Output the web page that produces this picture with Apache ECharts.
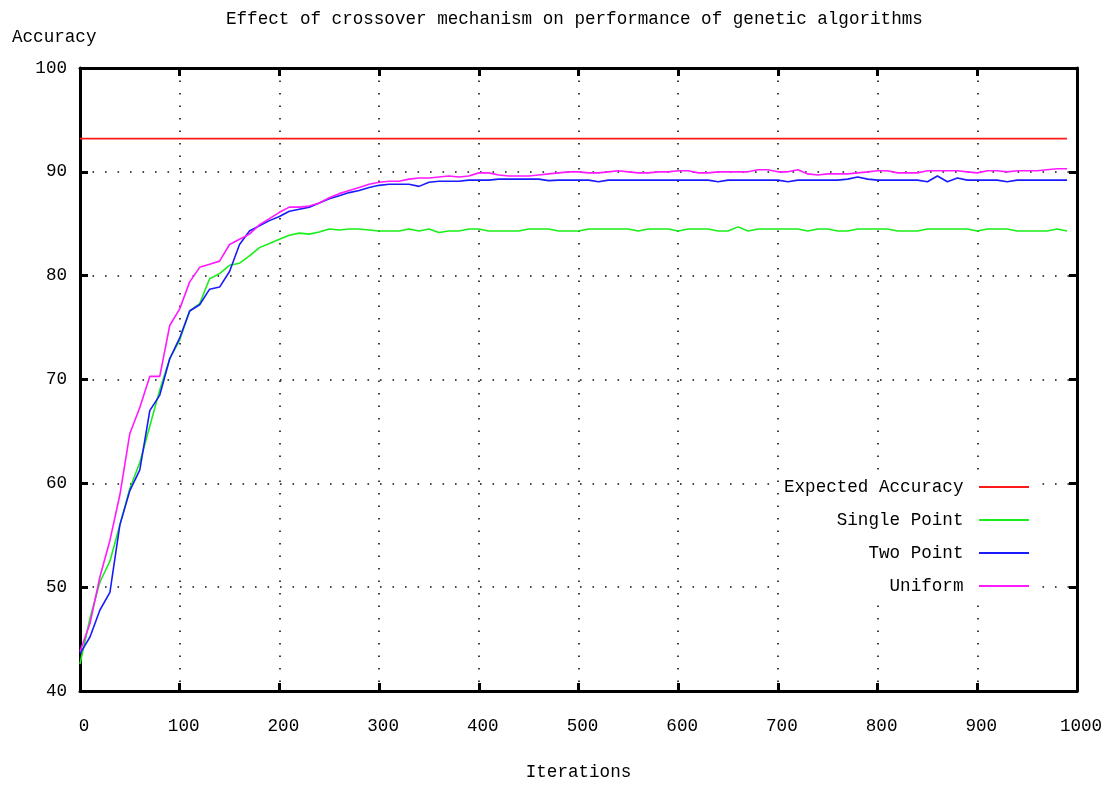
<!DOCTYPE html>
<html>
<head>
<meta charset="utf-8">
<title>Effect of crossover mechanism on performance of genetic algorithms</title>
<script src="https://cdn.jsdelivr.net/npm/echarts@6/dist/echarts.min.js"></script>
<style>
  html, body { margin: 0; padding: 0; background: #ffffff; }
  #chart { width: 1112px; height: 786px; }
</style>
</head>
<body>
<div id="chart"></div>
<script>
// Iterations sampled every 10 steps
const iterations = Array.from({ length: 100 }, (_, i) => i * 10);

const xTicks = [0, 100, 200, 300, 400, 500, 600, 700, 800, 900, 1000];
const yTicks = [40, 50, 60, 70, 80, 90, 100];

const expectedAccuracy = 93.2;

const singlePoint = [
  42.6, 47.0, 50.5, 52.5, 56.0, 59.5, 62.0, 65.5, 69.0, 72.0,
  73.8, 76.6, 77.3, 79.7, 80.2, 81.0, 81.2, 81.9, 82.7, 83.1,
  83.5, 83.9, 84.1, 84.0, 84.2, 84.5, 84.4, 84.5, 84.5, 84.4,
  84.3, 84.3, 84.3, 84.5, 84.3, 84.5, 84.15, 84.3, 84.3, 84.5,
  84.5, 84.3, 84.3, 84.3, 84.3, 84.5, 84.5, 84.5, 84.3, 84.3,
  84.3, 84.5, 84.5, 84.5, 84.5, 84.5, 84.3, 84.5, 84.5, 84.5,
  84.3, 84.5, 84.5, 84.5, 84.3, 84.3, 84.7, 84.3, 84.5, 84.5,
  84.5, 84.5, 84.5, 84.3, 84.5, 84.5, 84.3, 84.3, 84.5, 84.5,
  84.5, 84.5, 84.3, 84.3, 84.3, 84.5, 84.5, 84.5, 84.5, 84.5,
  84.3, 84.5, 84.5, 84.5, 84.3, 84.3, 84.3, 84.3, 84.5, 84.3
];

const twoPoint = [
  43.6, 45.2, 47.8, 49.5, 56.0, 59.3, 61.3, 67.0, 68.5, 72.0,
  74.0, 76.6, 77.2, 78.7, 78.9, 80.4, 83.0, 84.3, 84.8, 85.3,
  85.7, 86.2, 86.4, 86.6, 87.0, 87.4, 87.7, 88.0, 88.2, 88.5,
  88.7, 88.8, 88.8, 88.8, 88.6, 89.0, 89.1, 89.1, 89.1, 89.2,
  89.2, 89.2, 89.3, 89.3, 89.3, 89.3, 89.3, 89.15, 89.2, 89.2,
  89.2, 89.2, 89.05, 89.2, 89.2, 89.2, 89.2, 89.2, 89.2, 89.2,
  89.2, 89.2, 89.2, 89.2, 89.05, 89.2, 89.2, 89.2, 89.2, 89.2,
  89.2, 89.05, 89.2, 89.2, 89.2, 89.2, 89.2, 89.3, 89.5, 89.3,
  89.2, 89.2, 89.2, 89.2, 89.2, 89.05, 89.6, 89.05, 89.4, 89.2,
  89.2, 89.2, 89.2, 89.05, 89.2, 89.2, 89.2, 89.2, 89.2, 89.2
];

const uniform = [
  43.8, 46.5, 51.0, 54.5, 58.9, 64.8, 67.3, 70.3, 70.3, 75.2,
  76.8, 79.4, 80.8, 81.1, 81.4, 83.0, 83.5, 84.0, 84.9, 85.5,
  86.1, 86.6, 86.6, 86.7, 87.0, 87.5, 87.9, 88.2, 88.5, 88.8,
  89.0, 89.1, 89.1, 89.3, 89.4, 89.4, 89.5, 89.6, 89.5, 89.6,
  89.9, 89.9, 89.7, 89.6, 89.6, 89.6, 89.7, 89.8, 89.9, 90.0,
  90.0, 89.9, 89.9, 90.0, 90.1, 90.0, 89.9, 89.9, 90.0, 90.0,
  90.1, 90.1, 89.9, 89.9, 90.0, 90.0, 90.0, 90.0, 90.2, 90.2,
  90.0, 90.0, 90.2, 89.8, 89.7, 89.8, 89.8, 89.8, 89.9, 90.0,
  90.1, 90.1, 89.9, 89.9, 89.9, 90.1, 90.1, 90.1, 90.1, 90.0,
  89.9, 90.1, 90.1, 90.0, 90.1, 90.1, 90.1, 90.2, 90.3, 90.3
];

const seriesNames = ['Expected Accuracy', 'Single Point', 'Two Point', 'Uniform'];
const seriesColors = ['#ff1a1a', '#1aee1a', '#1a1aff', '#ff1aff'];

const FONT = '"Liberation Mono", "DejaVu Sans Mono", monospace';
const FS = 17.6;

const pairs = (vals) => iterations.map((it, i) => [it, vals[i]]);
const lastIt = iterations[iterations.length - 1];

const dotted = { color: '#111', width: 1.6, type: [1.6, 10.9] };
const frame = { show: true, onZero: false, lineStyle: { color: '#000', width: 3 } };
const innerTick = { show: true, inside: true, length: 8, lineStyle: { color: '#000', width: 3 } };

function lineSeries(idx, data) {
  return {
    name: seriesNames[idx],
    type: 'line',
    data: data,
    symbol: 'none',
    showSymbol: false,
    animation: false,
    lineStyle: { color: seriesColors[idx], width: 1.6 },
    itemStyle: { color: seriesColors[idx] },
    z: 3
  };
}

const chart = echarts.init(document.getElementById('chart'), null, { renderer: 'canvas' });

chart.setOption({
  backgroundColor: '#ffffff',
  animation: false,
  textStyle: { fontFamily: FONT, color: '#000' },
  title: {
    text: 'Effect of crossover mechanism on performance of genetic algorithms',
    left: 226,
    top: 10,
    padding: 0,
    textStyle: { fontFamily: FONT, fontSize: FS, fontWeight: 'normal', color: '#000' }
  },
  grid: { left: 80, right: 35, top: 68, bottom: 92, containLabel: false },
  legend: {
    orient: 'vertical',
    align: 'right',
    right: 75,
    top: 470,
    padding: [8, 8, 8, 4],
    backgroundColor: '#ffffff',
    icon: 'rect',
    itemWidth: 50,
    itemHeight: 2,
    itemGap: 15,
    data: seriesNames,
    formatter: (name) => name + ' ',
    textStyle: { fontFamily: FONT, fontSize: FS, color: '#000', lineHeight: 17 },
    selectedMode: false
  },
  xAxis: [
    {
      type: 'value',
      position: 'bottom',
      min: xTicks[0],
      max: xTicks[xTicks.length - 1],
      interval: 100,
      name: 'Iterations',
      nameLocation: 'middle',
      nameGap: 72,
      nameTextStyle: { fontFamily: FONT, fontSize: FS, color: '#000' },
      axisLine: frame,
      axisTick: innerTick,
      axisLabel: {
        margin: 26,
        padding: [0, 0, 0, 8],
        fontFamily: FONT, fontSize: FS, color: '#000',
        formatter: (v) => String(v)
      },
      splitLine: { show: true, lineStyle: dotted }
    },
    {
      type: 'value',
      position: 'top',
      min: xTicks[0],
      max: xTicks[xTicks.length - 1],
      interval: 100,
      axisLine: frame,
      axisTick: innerTick,
      axisLabel: { show: false },
      splitLine: { show: false }
    }
  ],
  yAxis: [
    {
      type: 'value',
      position: 'left',
      min: yTicks[0],
      max: yTicks[yTicks.length - 1],
      interval: 10,
      axisLine: frame,
      axisTick: innerTick,
      axisLabel: { margin: 13, fontFamily: FONT, fontSize: FS, color: '#000' },
      splitLine: { show: true, lineStyle: dotted }
    },
    {
      type: 'value',
      position: 'right',
      min: yTicks[0],
      max: yTicks[yTicks.length - 1],
      interval: 10,
      axisLine: frame,
      axisTick: innerTick,
      axisLabel: { show: false },
      splitLine: { show: false }
    }
  ],
  graphic: [
    {
      type: 'text',
      left: 12,
      top: 28,
      style: { text: 'Accuracy', font: FS + 'px ' + FONT, fill: '#000' }
    }
  ],
  series: [
    lineSeries(0, [[iterations[0], expectedAccuracy], [lastIt, expectedAccuracy]]),
    lineSeries(1, pairs(singlePoint)),
    lineSeries(2, pairs(twoPoint)),
    lineSeries(3, pairs(uniform))
  ]
});
</script>
</body>
</html>
